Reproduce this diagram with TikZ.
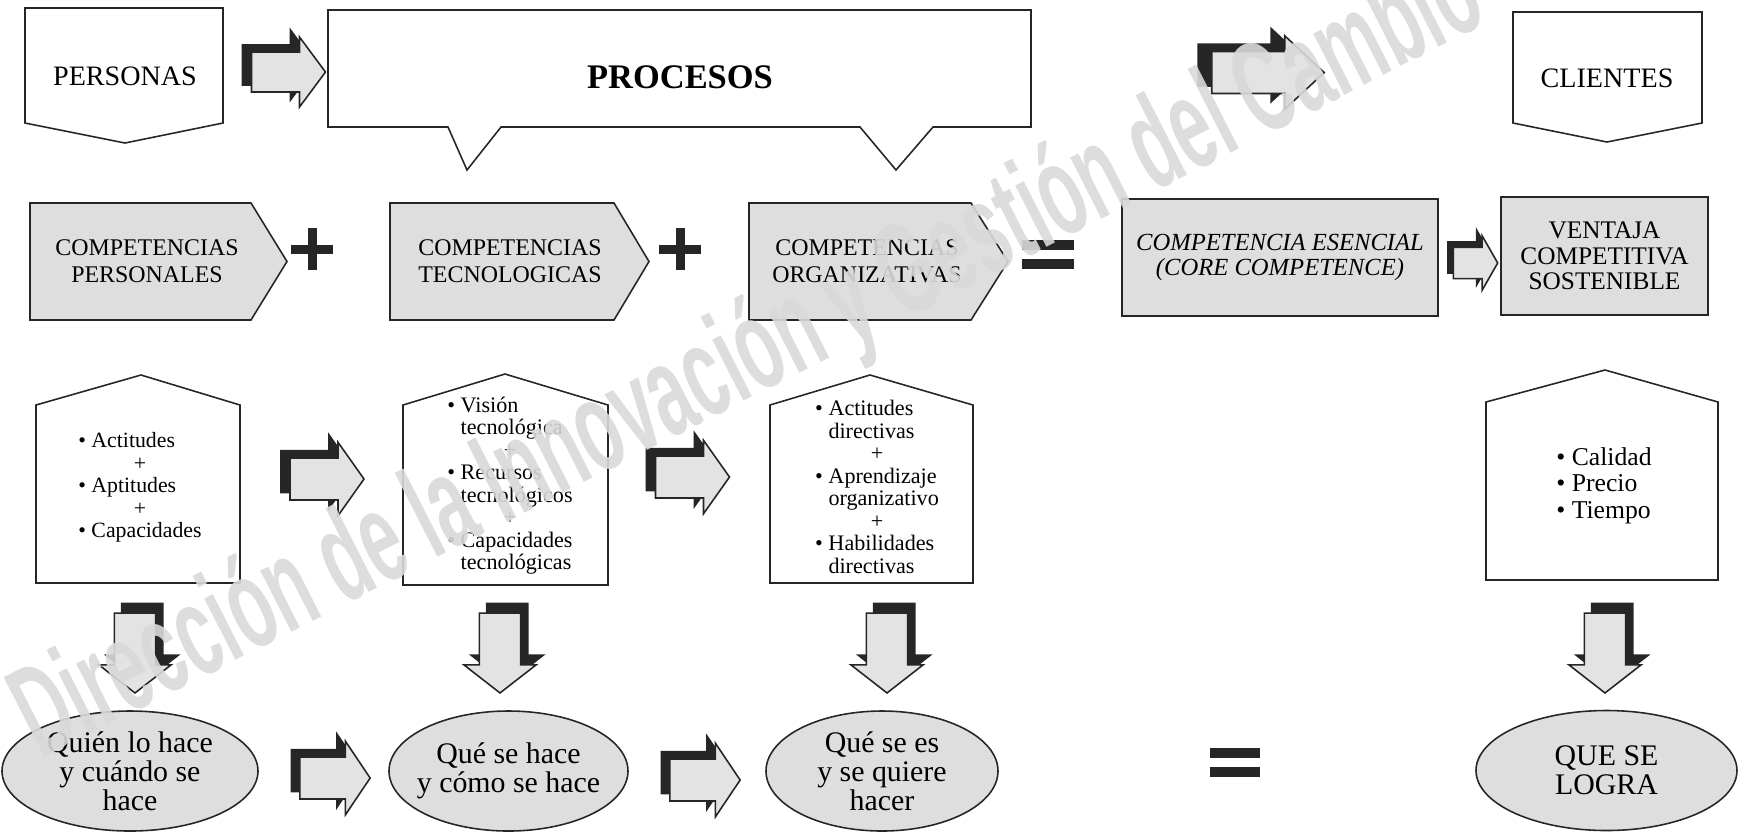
\documentclass[tikz,border=0pt]{standalone}
\usepackage{fontspec}
\setmainfont{Liberation Serif}
\newfontfamily\markfont{Liberation Sans}
\usetikzlibrary{shapes.geometric}

\tikzset{
  outline/.style={draw=black!85, line width=0.45pt, line join=miter},
  graybox/.style={outline, fill=black!13},
  whitebox/.style={outline, fill=white},
  toplabel/.style={font=\fontsize{8}{9}\selectfont},
  complabel/.style={font=\fontsize{6.8}{7.7}\selectfont, align=center},
  rowbox/.style={graybox, rectangle, inner sep=0pt, align=center, font=\fontsize{7}{7.1}\selectfont},
  itemlabel/.style={font=\fontsize{6.3}{6.4}\selectfont, inner sep=0pt},
  oval/.style={graybox, ellipse, inner sep=-1.5mm, align=center, minimum height=12mm, font=\fontsize{8.5}{8.2}\selectfont},
  ink/.style={fill=black!85},
  watermark/.style={text=black!15, text opacity=0.9, rotate=27, font=\markfont\bfseries\fontsize{37}{37}\selectfont},
  pics/blockarrow/.style={code={
    \foreach \dx/\dy/\tone in {-9/-7/black!85,0/0/black!11}
      \draw[outline, fill=\tone, shift={(\dx,\dy)}]
        (-37,-20) -- (11,-20) -- (11,-35) -- (37,0) -- (11,35) -- (11,20) -- (-37,20) -- cycle;
  }}
}

\begin{document}
\begin{tikzpicture}[x=0.1mm, y=-0.1mm]
    \useasboundingbox (0,0) rectangle (1738,832);
    \draw[whitebox] (25,8) -- (223,8) -- (223,123) -- (125,143) -- (25,123) -- cycle;
    \draw[whitebox] (328,10) -- (1031,10) -- (1031,127) -- (933,127) -- (896,170) -- (860,127)
        -- (501,127) -- (467,170) -- (448,127) -- (328,127) -- cycle;
    \draw[whitebox] (1513,12) -- (1702,12) -- (1702,123) -- (1607,142) -- (1513,123) -- cycle;
    \node (personas) [toplabel] at (125,76) {PERSONAS};
    \node (procesos) [font=\fontsize{9.8}{11}\selectfont\bfseries] at (680,77) {PROCESOS};
    \node (clientes) [toplabel] at (1607,78) {CLIENTES};

    \foreach \l/\r/\t in {30/251/287, 390/614/649, 749/971/1008}
        \draw[graybox] (\l,203) -- (\r,203) -- (\t,261.5) -- (\r,320) -- (\l,320) -- cycle;
    \node (comppers) [complabel] at (147,261.5) {COMPETENCIAS\\PERSONALES};
    \node (comptec) [complabel] at (510,261.5) {COMPETENCIAS\\TECNOLOGICAS};
    \node (comporg) [complabel] at (867,261.5) {COMPETENCIAS\\ORGANIZATIVAS};
    \node (core) [rowbox, minimum width=31.6mm, minimum height=11.7mm,
        font=\fontsize{7}{7.2}\selectfont\itshape] at (1280,257.5) {COMPETENCIA ESENCIAL\\(CORE COMPETENCE)};
    \node (ventaja) [rowbox, minimum width=20.7mm, minimum height=11.8mm,
        font=\fontsize{7.2}{7.2}\selectfont] at (1604.5,256) {VENTAJA\\COMPETITIVA\\SOSTENIBLE};

    \foreach \x in {312,680} {
        \fill[ink] (\x-21,244.5) rectangle (\x+21,253.5);
        \fill[ink] (\x-4.5,228) rectangle (\x+4.5,270);
    }
    \foreach \x/\y/\w in {1048/254.5/26, 1234.5/762.5/25} {
        \fill[ink] (\x-\w,\y-14.5) rectangle (\x+\w,\y-4.5);
        \fill[ink] (\x-\w,\y+4.5) rectangle (\x+\w,\y+14.5);
    }

    \foreach \l/\r/\a/\ha/\hs/\hb in {36/240/141/375/405/583, 403/608/505/374/405/585,
            770/973/870/375/405/583, 1486/1718/1605/370/402/580}
        \draw[whitebox] (\l,\hb) -- (\l,\hs) -- (\a,\ha) -- (\r,\hs) -- (\r,\hb) -- cycle;
    \node (persitems) [itemlabel, font=\fontsize{6.2}{6.4}\selectfont] at (140,488) {%
        \begin{tabular}{@{}l@{}}
            \textbullet\ Actitudes\\ \multicolumn{1}{@{}c@{}}{+}\\
            \textbullet\ Aptitudes\\ \multicolumn{1}{@{}c@{}}{+}\\
            \textbullet\ Capacidades
        \end{tabular}};
    \node (tecitems) [itemlabel] at (510,486.5) {%
        \begin{tabular}{@{}l@{}}
            \textbullet\ Visión\\ \hphantom{\textbullet\ }tecnológica\\ \multicolumn{1}{@{}c@{}}{+}\\
            \textbullet\ Recursos\\ \hphantom{\textbullet\ }tecnológicos\\ \multicolumn{1}{@{}c@{}}{+}\\
            \textbullet\ Capacidades\\ \hphantom{\textbullet\ }tecnológicas
        \end{tabular}};
    \node (orgitems) [itemlabel] at (877,490) {%
        \begin{tabular}{@{}l@{}}
            \textbullet\ Actitudes\\ \hphantom{\textbullet\ }directivas\\ \multicolumn{1}{@{}c@{}}{+}\\
            \textbullet\ Aprendizaje\\ \hphantom{\textbullet\ }organizativo\\ \multicolumn{1}{@{}c@{}}{+}\\
            \textbullet\ Habilidades\\ \hphantom{\textbullet\ }directivas
        \end{tabular}};
    \node (cliitems) [itemlabel, font=\fontsize{7.3}{7.5}\selectfont] at (1604,486.5) {%
        \begin{tabular}{@{}l@{}}
            \textbullet\ Calidad\\ \textbullet\ Precio\\ \textbullet\ Tiempo
        \end{tabular}};

    \pic at (288.5,72) {blockarrow};
    \pic[xscale=1.52, yscale=1.05] at (1268,72.5) {blockarrow};
    \pic[xscale=0.6, yscale=0.78] at (1475.5,263) {blockarrow};
    \pic[yscale=1.05] at (327,479) {blockarrow};
    \pic[yscale=1.05] at (692.5,477) {blockarrow};
    \pic[xscale=0.95, yscale=1.05] at (335,778) {blockarrow};
    \pic[xscale=0.95, yscale=1.05] at (705,780) {blockarrow};
    \foreach \x in {135,500,887,1605}
        \pic[rotate=-90, xscale=1.08, yscale=1.03] at (\x,653) {blockarrow};

    \node (quien) [oval, minimum width=25.6mm] at (130,771) {Quién lo hace\\y cuándo se\\hace};
    \node (quehace) [oval, minimum width=23.9mm] at (508.5,771) {Qué se hace\\y cómo se hace};
    \node (quees) [oval, minimum width=23.2mm] at (882,771) {Qué se es\\y se quiere\\hacer};
    \node (logra) [oval, minimum width=26.1mm] at (1606.5,770.5) {QUE SE\\LOGRA};

    \node (marca) [watermark] at (750,360) {\scalebox{0.54}[1]{Dirección de la Innovación y Gestión del Cambio}};
\end{tikzpicture}
\end{document}
